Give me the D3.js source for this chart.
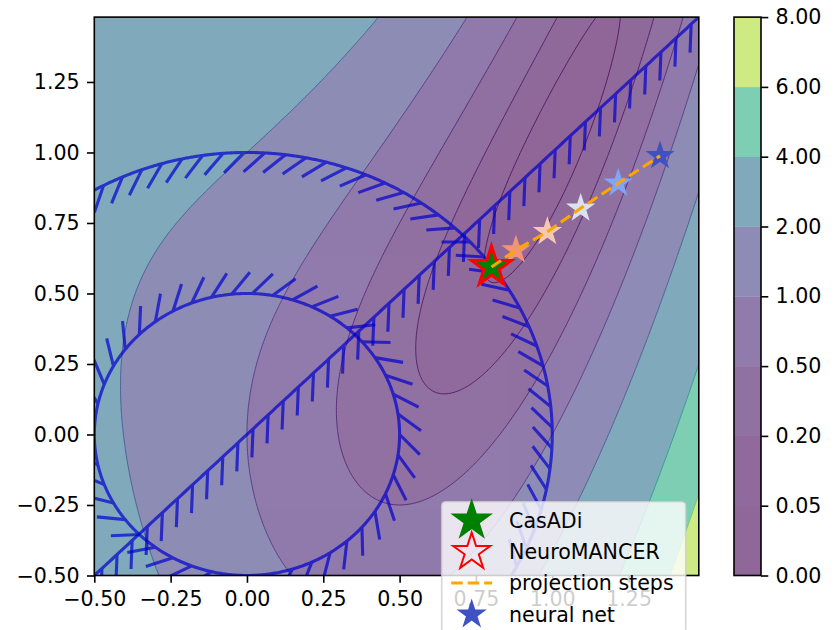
<!DOCTYPE html>
<html><head><meta charset="utf-8">
<script src="https://cdn.jsdelivr.net/npm/d3@7"></script>
<style>
body{margin:0;background:#fff;}
svg{display:block;font-family:"DejaVu Sans",sans-serif;}
</style></head><body>
<svg id="chart" width="838" height="630"></svg>
<script>
// ---------------- data ----------------
const levels = [0, 0.05, 0.2, 0.5, 1.0, 2.0, 4.0, 6.0, 8.0];
const levelLabels = ["0.00","0.05","0.20","0.50","1.00","2.00","4.00","6.00","8.00"];
const xTicks = [-0.5, -0.25, 0, 0.25, 0.5, 0.75, 1.0, 1.25];
const yTicks = [-0.5, -0.25, 0, 0.25, 0.5, 0.75, 1.0, 1.25];
const gridMin = -0.5, gridMax = 1.48;
const paramA = 1.0;   // Rosenbrock parameter a
const paramP = 1.0;   // constraint parameter p
// projection steps: from final (projected) solution back to neural-net output
const stepX = [0.801, 0.881, 0.984, 1.093, 1.216, 1.353];
const stepY = [0.594, 0.654, 0.719, 0.802, 0.891, 0.988];
const stepColors = ["#b40426", "#f29476", "#f6c8b0", "#dae2f0", "#80a5f7", "#3e51c5"];
const casadiSol = [0.801, 0.594];
const nmSol = [0.801, 0.594];
const legendLabels = ["CasADi", "NeuroMANCER", "projection steps", "neural net"];

// ---------------- layout ----------------
const plot = {left: 94.3, right: 698.8, top: 17.1, bottom: 575.5};
const cbar = {left: 734, right: 761, top: 17.1, bottom: 575.5};
const FS = 20.6;
const svg = d3.select("#chart");
const x = d3.scaleLinear().domain([gridMin, gridMax]).range([plot.left, plot.right]);
const y = d3.scaleLinear().domain([gridMin, gridMax]).range([plot.bottom, plot.top]);

svg.append("rect").attr("width", 838).attr("height", 630).attr("fill", "#fff");
const defs = svg.append("defs");
defs.append("clipPath").attr("id", "plotClip").append("rect")
  .attr("x", plot.left).attr("y", plot.top)
  .attr("width", plot.right - plot.left).attr("height", plot.bottom - plot.top);

// colours: viridis with alpha 0.6 on white
function blend(c, a) { const r = d3.rgb(c); return d3.rgb(r.r*a + 255*(1-a), r.g*a + 255*(1-a), r.b*a + 255*(1-a)).formatHex(); }
const norm = d3.scaleLinear().domain([levels[0], levels[levels.length-1]]).range([0, 1]);
const mids = levels.slice(0, -1).map((l, i) => (l + levels[i+1]) / 2);
const bandColors = mids.map(m => blend(d3.interpolateViridis(norm(m)), 0.6));

// ---------------- objective field ----------------
function objective(xx, yy) { return (1 - xx) ** 2 + paramA * (yy - xx * xx) ** 2; }
const step = 0.005;
const n = Math.round((gridMax - gridMin) / step) + 1;
const vals = new Array(n * n);
for (let j = 0; j < n; j++) {
  const yy = gridMin + j * step;
  for (let i = 0; i < n; i++) vals[j * n + i] = objective(gridMin + i * step, yy);
}
const proj = d3.geoTransform({point(gx, gy) {
  this.stream.point(x(gridMin + (gx - 0.5) * step), y(gridMin + (gy - 0.5) * step));
}});
const gpath = d3.geoPath(proj);

const gPlot = svg.append("g").attr("clip-path", "url(#plotClip)");
const bands = d3.contours().size([n, n]).thresholds(levels.slice(0, -1))(vals);
gPlot.append("g").selectAll("path").data(bands).join("path")
  .attr("d", gpath).attr("fill", (d, i) => bandColors[i]).attr("fill-rule", "evenodd");

const lineLevels = levels.slice(1, -1);
const lines = d3.contours().size([n, n]).thresholds(lineLevels)(vals);
gPlot.append("g").selectAll("path").data(lines).join("path")
  .attr("d", gpath).attr("fill", "none")
  .attr("stroke", d => d3.interpolateViridis(norm(d.value)))
  .attr("stroke-width", 1).attr("stroke-opacity", 0.75);

// ---------------- constraints with ticked stroke ----------------
const TICK_SP = 20.8, TICK_LEN = 28.5;
function ticks(pts) {
  const cum = [0];
  for (let i = 1; i < pts.length; i++) cum.push(cum[i-1] + Math.hypot(pts[i][0]-pts[i-1][0], pts[i][1]-pts[i-1][1]));
  const L = cum[cum.length - 1];
  const num = Math.ceil((L - TICK_SP) / TICK_SP) + 1;
  const out = [];
  let idx = 0;
  for (let k = 0; k < num; k++) {
    const s = TICK_SP / 2 + k * (L - TICK_SP) / (num - 1);
    while (idx < cum.length - 2 && cum[idx+1] < s) idx++;
    const seg = cum[idx+1] - cum[idx];
    const t = (s - cum[idx]) / seg;
    const p0 = pts[idx], p1 = pts[idx+1];
    const px = p0[0] + t * (p1[0]-p0[0]), py = p0[1] + t * (p1[1]-p0[1]);
    const tx = (p1[0]-p0[0]) / seg, ty = (p1[1]-p0[1]) / seg;
    const dx = Math.SQRT1_2 * (tx + ty), dy = Math.SQRT1_2 * (ty - tx);
    out.push([[px, py], [px + TICK_LEN*dx, py + TICK_LEN*dy]]);
  }
  return out;
}
function arcPts(r, a0, a1, N) {
  return d3.range(N + 1).map(k => { const a = a0 + (a1 - a0) * k / N; return [x(r*Math.cos(a)), y(r*Math.sin(a))]; });
}
const lineData = [[gridMax, gridMax], [gridMin, gridMin]];
const constraintPaths = [
  d3.range(201).map(k => { const v = lineData[0][0] + (lineData[1][0]-lineData[0][0]) * k / 200; return [x(v), y(v)]; }),
  arcPts(paramP / 2, Math.PI, -Math.PI, 720),
  arcPts(paramP, -Math.acos(-gridMin / paramP) + 0 * 1, Math.PI - Math.acos(-gridMin / paramP) + Math.PI/2 - Math.PI/2, 720)
];
// outer arc: from (0.866,-0.5) to (-0.5,0.866)
constraintPaths[2] = arcPts(paramP, Math.asin(gridMin / paramP), Math.PI - Math.acos(gridMin / paramP) + Math.PI/2 - Math.PI/2 + 0, 720);
constraintPaths[2] = arcPts(paramP, -Math.PI/6, 2*Math.PI/3, 720);
const ln = d3.line();
constraintPaths.forEach(pts => {
  const g = gPlot.append("g").attr("opacity", 0.7);
  g.append("path").attr("d", ln(pts)).attr("fill", "none").attr("stroke", "#0000cd").attr("stroke-width", 3.1);
  g.selectAll("line").data(ticks(pts)).join("line")
    .attr("x1", d => d[0][0]).attr("y1", d => d[0][1]).attr("x2", d => d[1][0]).attr("y2", d => d[1][1])
    .attr("stroke", "#0000cd").attr("stroke-width", 3.1);
});

// ---------------- markers ----------------
function starPath(R) {
  const r = R * 0.381966, p = [];
  for (let k = 0; k < 10; k++) { const rad = k % 2 ? r : R; const a = -Math.PI/2 + k*Math.PI/5; p.push([rad*Math.cos(a), rad*Math.sin(a)]); }
  return "M" + p.map(q => q[0].toFixed(2) + "," + q[1].toFixed(2)).join("L") + "Z";
}
const steps = stepX.map((v, i) => ({x: v, y: stepY[i], c: stepColors[i]}));
gPlot.append("g").selectAll("path").data(steps).join("path")
  .attr("transform", d => `translate(${x(d.x)},${y(d.y)})`)
  .attr("d", starPath(13)).attr("fill", d => d.c).attr("stroke", d => d.c).attr("stroke-width", 1.5);
gPlot.append("path").attr("transform", `translate(${x(casadiSol[0])},${y(casadiSol[1])})`)
  .attr("d", starPath(20)).attr("fill", "#008000").attr("stroke", "#008000").attr("stroke-width", 1.5);
gPlot.append("path").attr("transform", `translate(${x(nmSol[0])},${y(nmSol[1])})`)
  .attr("d", starPath(21)).attr("fill", "none").attr("stroke", "#ff0000").attr("stroke-width", 3);
gPlot.append("path").datum(steps)
  .attr("d", d3.line().x(d => x(d.x)).y(d => y(d.y)))
  .attr("fill", "none").attr("stroke", "#ffa500").attr("stroke-width", 3.1).attr("stroke-dasharray", "11.5,5");

// ---------------- axes ----------------
svg.append("rect").attr("x", plot.left).attr("y", plot.top)
  .attr("width", plot.right - plot.left).attr("height", plot.bottom - plot.top)
  .attr("fill", "none").attr("stroke", "#000").attr("stroke-width", 1.6);
const fmt = d3.format(".2f");
const gx = svg.append("g").attr("transform", `translate(0,${plot.bottom})`)
  .call(d3.axisBottom(x).tickValues(xTicks).tickFormat(fmt).tickSize(7.3).tickPadding(9));
const gy = svg.append("g").attr("transform", `translate(${plot.left},0)`)
  .call(d3.axisLeft(y).tickValues(yTicks).tickFormat(fmt).tickSize(7.3).tickPadding(7.3));
[gx, gy].forEach(g => {
  g.select(".domain").remove();
  g.selectAll("line").attr("stroke", "#000").attr("stroke-width", 1.6);
  g.selectAll("text").attr("font-size", FS).attr("fill", "#000").attr("font-family", "DejaVu Sans");
});

// ---------------- colorbar ----------------
const cb = d3.scaleLinear().domain([0, levels.length - 1]).range([cbar.bottom, cbar.top]);
svg.append("g").selectAll("rect").data(bandColors).join("rect")
  .attr("x", cbar.left).attr("width", cbar.right - cbar.left)
  .attr("y", (d, i) => cb(i + 1)).attr("height", (d, i) => cb(i) - cb(i + 1) + 0.3)
  .attr("fill", d => d);
svg.append("rect").attr("x", cbar.left).attr("y", cbar.top)
  .attr("width", cbar.right - cbar.left).attr("height", cbar.bottom - cbar.top)
  .attr("fill", "none").attr("stroke", "#000").attr("stroke-width", 1.6);
const gc = svg.append("g").attr("transform", `translate(${cbar.right},0)`)
  .call(d3.axisRight(cb).tickValues(d3.range(levels.length)).tickFormat(i => levelLabels[i]).tickSize(7.3).tickPadding(7.3));
gc.select(".domain").remove();
gc.selectAll("line").attr("stroke", "#000").attr("stroke-width", 1.6);
gc.selectAll("text").attr("font-size", FS).attr("fill", "#000").attr("font-family", "DejaVu Sans");

// ---------------- legend ----------------
const lg = svg.append("g");
lg.append("rect").attr("x", 441.7).attr("y", 501.7).attr("width", 244).attr("height", 132).attr("rx", 4)
  .attr("fill", "#fff").attr("fill-opacity", 0.8).attr("stroke", "#cccccc").attr("stroke-opacity", 0.8).attr("stroke-width", 1.6);
const rowY = [520.5, 552, 583, 614.5];
const mx = 471.7;
lg.append("path").attr("transform", `translate(${mx},${rowY[0]})`).attr("d", starPath(20))
  .attr("fill", "#008000").attr("stroke", "#008000").attr("stroke-width", 1.5);
lg.append("path").attr("transform", `translate(${mx},${rowY[1]})`).attr("d", starPath(19.5))
  .attr("fill", "none").attr("stroke", "#ff0000").attr("stroke-width", 2);
lg.append("line").attr("x1", mx - 20.5).attr("x2", mx + 20.5).attr("y1", rowY[2]).attr("y2", rowY[2])
  .attr("stroke", "#ffa500").attr("stroke-width", 3.1).attr("stroke-dasharray", "11.5,5");
lg.append("path").attr("transform", `translate(${mx},${rowY[3]})`).attr("d", starPath(13.5))
  .attr("fill", stepColors[stepColors.length - 1]).attr("stroke", stepColors[stepColors.length - 1]).attr("stroke-width", 1.5);
lg.selectAll("text").data(legendLabels).join("text")
  .attr("x", 509).attr("y", (d, i) => rowY[i] + 7)
  .attr("font-size", FS).attr("fill", "#000").text(d => d);
</script>
</body></html>
